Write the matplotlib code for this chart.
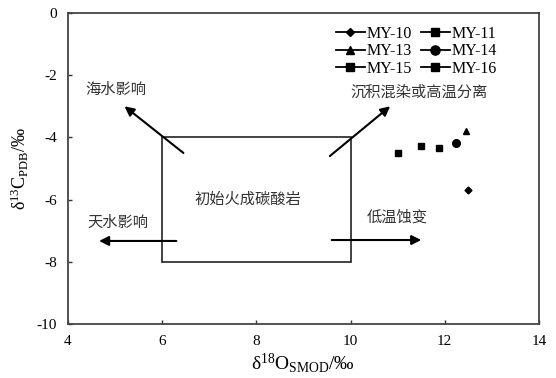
import matplotlib
matplotlib.use('Agg')
from matplotlib import pyplot as plt
from matplotlib.patches import Rectangle

plt.rcParams['font.family'] = ['Liberation Serif', 'Noto Sans CJK SC']
plt.rcParams['mathtext.fontset'] = 'custom'
plt.rcParams['mathtext.rm'] = 'Liberation Serif'
plt.rcParams['axes.unicode_minus'] = False

# samples
samples = ['MY-10', 'MY-11', 'MY-13', 'MY-14', 'MY-15', 'MY-16']
markers = ['D', 's', '^', 'o', 's', 's']
msizes = [3.5, 5, 5, 5.5, 5, 5]
d18o = [12.49, 11.0, 12.44, 12.24, 11.5, 11.88]
d13c = [-5.69, -4.5, -3.78, -4.19, -4.27, -4.34]

# primary igneous carbonate field
box_x = [6, 10]
box_y = [-8, -4]

# process arrows: (label, start, end, label position)
arrows = [
    ('海水影响', (6.45, -4.5), (5.2, -3.0), (5.02, -2.45)),
    ('天水影响', (6.3, -7.33), (4.66, -7.33), (5.06, -6.74)),
    ('沉积混染或高温分离', (9.56, -4.6), (10.84, -3.0), (11.45, -2.56)),
    ('低温蚀变', (9.6, -7.3), (11.5, -7.3), (10.98, -6.55)),
]
box_label = '初始火成碳酸岩'

fig = plt.figure(figsize=(5.56, 3.78), dpi=100)
ax = fig.add_axes([0.1223, 0.1429, 0.8471, 0.8227])

lines = []
for name, m, ms, x, y in zip(samples, markers, msizes, d18o, d13c):
    ln, = ax.plot([x], [y], marker=m, ms=ms, ls='-', lw=1.3, color='black',
                  label=name)
    lines.append(ln)

ax.add_patch(Rectangle((box_x[0], box_y[0]), box_x[1] - box_x[0],
                       box_y[1] - box_y[0], fill=False, lw=1.2,
                       edgecolor='#222222'))
ax.text(sum(box_x) / 2 - 0.18, sum(box_y) / 2, box_label, ha='center',
        va='center', fontsize=11, family='Noto Sans CJK SC', color='#333333')

for label, start, end, pos in arrows:
    ax.annotate('', xy=end, xytext=start,
                arrowprops=dict(arrowstyle='-|>', lw=1.5, color='black',
                                mutation_scale=14, shrinkA=0, shrinkB=0))
    ax.text(pos[0], pos[1], label, ha='center', va='center', fontsize=11,
            family='Noto Sans CJK SC', color='#333333')

ax.set_xlim(4, 14)
ax.set_ylim(-10, 0)
ax.set_xticks(range(4, 15, 2))
ax.set_yticks(range(-10, 1, 2))
ax.tick_params(direction='in', length=3, labelsize=11, width=1,
               color='#333333', pad=8)
for side in ax.spines:
    ax.spines[side].set_linewidth(1.3)
    ax.spines[side].set_color('#444444')

ax.set_xlabel(r'$\mathregular{\delta^{18}O_{SMOD}}$/‰', fontsize=14,
              labelpad=2)
ax.set_ylabel(r'$\mathregular{\delta^{13}C_{PDB}}$/‰', fontsize=13,
              labelpad=4)

# row-major legend: matplotlib fills columns first
order = [0, 2, 4, 1, 3, 5]
ax.legend([lines[i] for i in order], [samples[i] for i in order],
          ncol=2, loc='upper left', bbox_to_anchor=(0.555, 0.98),
          frameon=False, fontsize=11.5, handlelength=1.8, handletextpad=0.1,
          labelspacing=0.1, columnspacing=0.6, borderaxespad=0,
          markerscale=1.2)

fig.savefig('out.png', dpi=100)
